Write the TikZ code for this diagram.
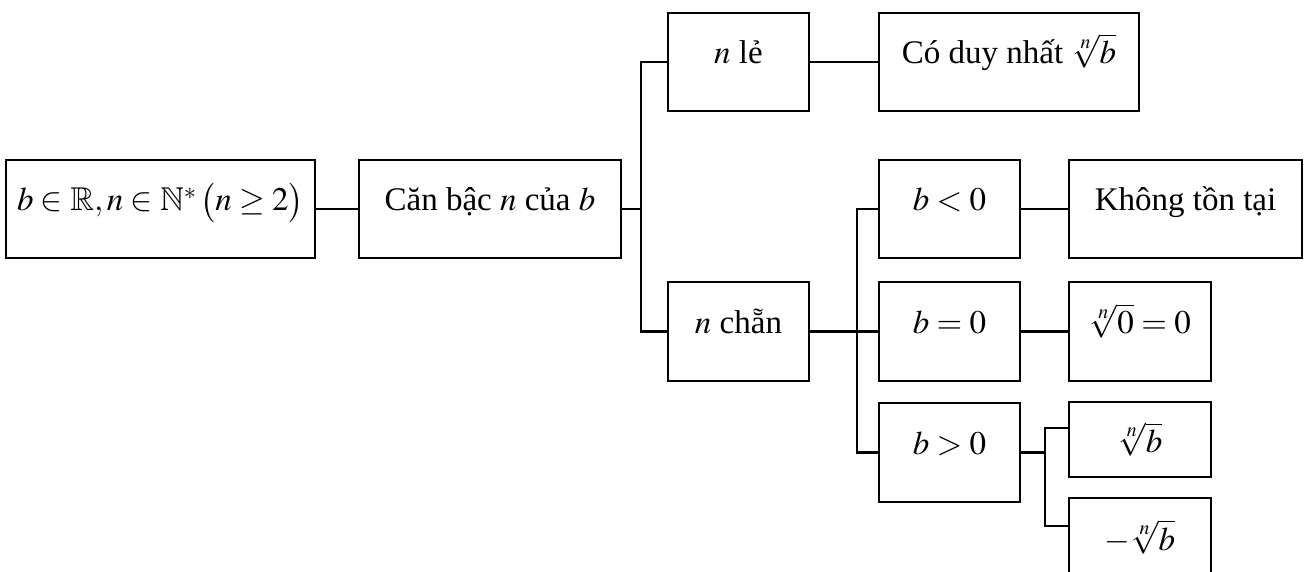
\documentclass[tikz,border=0pt]{standalone}
\usepackage{mathptmx}
\usepackage{amssymb}
\usepackage[no-math]{fontspec}
\setmainfont{Liberation Serif}
\begin{document}
\begin{tikzpicture}[x=1pt,y=-1pt,
  box/.style={draw, line width=2.5pt, inner sep=0pt, text height=24pt, text depth=20pt, font=\fontsize{33}{40}\selectfont},
  cbox/.style={draw, line width=2.5pt, inner sep=0pt, font=\fontsize{33}{40}\selectfont},
  conn/.style={line width=2.5pt}]
\useasboundingbox (0,0) rectangle (1309,572);
% nodes
\node[box,minimum width=309pt,minimum height=98pt] (A) at (160.5,209) {$b\in\mathbb{R}, n\in\mathbb{N}^{*}\,\bigl(n\geq 2\bigr)$};
\node[box,minimum width=262pt,minimum height=98pt] (B) at (490,209) {Căn bậc $n$ của $b$};
\node[box,minimum width=141pt,minimum height=98pt] (nle) at (738.5,62) {$n$ lẻ};
\node[box,minimum width=260pt,minimum height=98pt] (cdn) at (1009,62) {Có duy nhất $\sqrt[n]{b}$};
\node[box,minimum width=141pt,minimum height=99pt] (nchan) at (738.5,331.5) {$n$ chẵn};
\node[box,minimum width=141pt,minimum height=98pt] (blt) at (949.5,209) {$b<0$};
\node[box,minimum width=233pt,minimum height=98pt] (ktt) at (1185.5,209) {Không tồn tại};
\node[box,minimum width=141pt,minimum height=99pt] (beq) at (949.5,331.5) {$b=0$};
\node[box,minimum width=142pt,minimum height=99pt] (r0) at (1140,331.5) {$\sqrt[n]{0}=0$};
\node[box,minimum width=141pt,minimum height=99pt] (bgt) at (949.5,452.5) {$b>0$};
\node[cbox,minimum width=142pt,minimum height=75pt] (sq) at (1140,439.5) {$\sqrt[n]{b}$};
\node[cbox,minimum width=142pt,minimum height=78pt] (msq) at (1140,537) {$-\sqrt[n]{b}$};
% junctions
\coordinate (j1) at (641,209);
\coordinate (j2) at (857,331.5);
\coordinate (j3) at (1045,452.5);
% connectors
\draw[conn] (A.east) -- (B.west);
\draw[conn] (B.east) -- (j1);
\draw[conn] (nle.west) -| (j1) |- (nchan.west);
\draw[conn] (nle.east) -- (cdn.west);
\draw[conn] (nchan.east) -- (beq.west);
\draw[conn] (blt.west) -| (j2) |- (bgt.west);
\draw[conn] (blt.east) -- (ktt.west);
\draw[conn] (beq.east) -- (r0.west);
\draw[conn] (bgt.east) -- (j3);
\draw[conn] ([yshift=11.5pt]sq.west) -| (j3) |- ([yshift=11pt]msq.west);
\end{tikzpicture}
\end{document}
